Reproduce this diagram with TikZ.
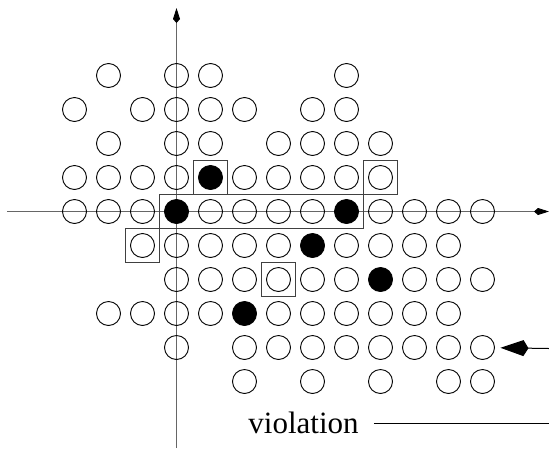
\documentclass[tikz,border=0pt]{standalone}
\usepackage{fontspec}
\setmainfont{Liberation Serif}
\usetikzlibrary{arrows.meta}
\begin{document}
\begin{tikzpicture}[x=1pt,y=-1pt,
  dot/.style={circle,draw=black,line width=0.9pt,minimum size=24pt,inner sep=0pt},
  full/.style={dot,fill=black},
  frame/.style={draw=black!75,line width=0.8pt},
  axis/.style={draw=black!60,line width=0.9pt,-{Kite[length=15pt,width=7pt,inset=4pt,color=black]}},
  lab/.style={font=\fontsize{31}{36}\selectfont,inner sep=0pt}]
\useasboundingbox (0,0) rectangle (549,448);
% axes
\coordinate (xl) at (7,211.5);
\coordinate (xr) at (549,211.5);
\coordinate (yb) at (176.5,448);
\coordinate (yt) at (176.5,8);
\draw[axis] (xl) -- (xr);
\draw[axis] (yb) -- (yt);
% lattice points
\foreach \j/\list in {4/{-2,0,1,5},3/{-3,-1,0,1,2,4,5},2/{-2,0,1,3,4,5,6},
  1/{-3,-2,-1,0,2,3,4,5,6},0/{-3,-2,-1,1,2,3,4,6,7,8,9},
  -1/{-1,0,1,2,3,5,6,7,8},-2/{0,1,2,3,4,5,7,8,9},-3/{-2,-1,0,1,3,4,5,6,7,8},
  -4/{0,2,3,4,5,6,7,8,9},-5/{2,4,6,8,9}}{
  \foreach \i in \list {
    \node[dot] (n\i_\j) at (176.5+34*\i,211.5-34*\j) {};
  }
}
\foreach \i/\j in {1/1,0/0,5/0,4/-1,6/-2,2/-3}{
  \node[full] (n\i_\j) at (176.5+34*\i,211.5-34*\j) {};
}
% boxes
\foreach \i/\j in {1/1,6/1,-1/-1,3/-2}{
  \draw[frame] ([shift={(-17,-17)}]n\i_\j.center) rectangle ([shift={(17,17)}]n\i_\j.center);
}
\draw[frame] ([shift={(-17,-17)}]n0_0.center) rectangle ([shift={(17,17)}]n5_0.center);
% arrow to violation point
\coordinate (vin) at (549,348.5);
\draw[line width=1pt,-{Kite[length=28pt,width=16pt,inset=5pt]},shorten >=5.5pt] (vin) -- (n9_-4);
% label
\node[lab,anchor=base] (viol) at (303.5,433) {violation};
\coordinate (vend) at (549,423);
\draw[line width=1pt] ([xshift=15pt]viol.east |- vend) -- (vend);
\end{tikzpicture}
\end{document}
